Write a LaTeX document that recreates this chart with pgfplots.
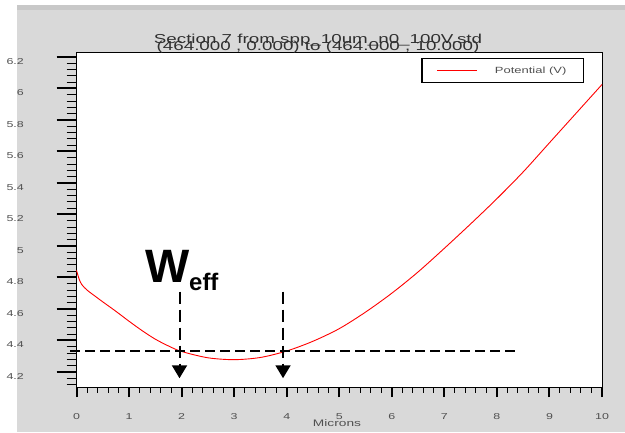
\documentclass[border=0pt]{standalone}
\usepackage{pgfplots}
\pgfplotsset{compat=1.18}
\usepackage{pgfplotstable}
\usepackage{fontspec}
\setmainfont{Liberation Sans}
\newfontfamily\widefont[FakeStretch=1.45]{Liberation Sans}
\usetikzlibrary{arrows.meta}
\definecolor{panel}{HTML}{D9D9D9}
\definecolor{panelband}{HTML}{C8C8C8}
\definecolor{labelgray}{HTML}{505050}
\definecolor{titlegray}{HTML}{303030}

% potential along section 7 (microns, volts)
\pgfplotstableread{
x v
0.00 4.845
0.05 4.790
0.10 4.755
0.20 4.720
0.35 4.682
0.50 4.645
0.75 4.585
1.00 4.522
1.25 4.462
1.50 4.408
1.75 4.365
2.00 4.330
2.50 4.290
3.00 4.278
3.50 4.292
4.00 4.333
4.50 4.395
5.00 4.475
5.50 4.580
6.00 4.700
6.50 4.835
7.00 4.985
7.50 5.140
8.00 5.300
8.50 5.470
9.00 5.655
9.50 5.840
10.00 6.025
}\potential

\pgfplotsset{
  frame/.style={
    at={(76.5bp,44.3bp)}, anchor=south west,
    width=525.5bp, height=334.7bp, scale only axis,
    xmin=0, xmax=10, ymin=4.1, ymax=6.225,
    axis line style={black, line width=1bp},
    tick align=outside, tick pos=left,
    major tick style={black, line width=2bp},
    minor tick style={black, line width=1bp},
    /pgf/number format/assume math mode=true,
  },
}

\begin{document}
\begin{tikzpicture}[x=1bp,y=1bp]
\useasboundingbox (0,0) rectangle (625,432);
\fill[white] (0,0) rectangle (625,432);
\fill[panel] (17.3,0) rectangle (625,427);
\fill[panelband] (17.3,422) rectangle (625,427);

% y axis ticks (long) and white plotting area
\begin{axis}[frame,
  axis background/.style={fill=white},
  xtick=\empty,
  ytick={4.0,4.2,4.4,4.6,4.8,5.0,5.2,5.4,5.6,5.8,6.0,6.2},
  minor y tick num=4,
  major tick length=20bp, minor tick length=10bp,
  yticklabel style={font=\widefont\fontsize{8.6}{8.6}\selectfont, text=labelgray,
    anchor=east, inner sep=0pt, xshift=-32.5bp, yshift=-4.5bp},
]
\end{axis}

% curve, x axis ticks and annotation
\begin{axis}[frame,
  ytick=\empty,
  xtick={0,1,2,3,4,5,6,7,8,9,10},
  minor x tick num=4,
  major tick length=9.5bp, minor tick length=5bp,
  xticklabel style={font=\widefont\fontsize{8.6}{8.6}\selectfont, text=labelgray,
    anchor=base, inner sep=0pt, yshift=-22bp},
  clip=false,
  legend image code/.code={\draw[red, line width=0.8bp] (0bp,0bp) -- (40bp,0bp);},
  legend style={at={(1,1)}, anchor=north east, xshift=-18bp, yshift=-5bp,
    draw=black, line width=1.2bp, fill=white,
    inner xsep=15bp, inner ysep=6bp, column sep=15bp,
    font=\widefont\fontsize{9}{9}\selectfont, text=labelgray,
    cells={anchor=west}},
]
\addplot[red, line width=0.9bp, smooth] table {\potential};
\addlegendentry{Potential (V)}
\addplot[black, line width=2bp, dash pattern=on 10bp off 5bp, forget plot]
  coordinates {(-0.12,4.333) (8.38,4.333)};
\addplot[black, line width=2bp, dash pattern=on 12bp off 6bp, forget plot,
  -{Triangle[width=15bp,length=13bp]}]
  coordinates {(1.96,4.71) (1.96,4.16)};
\addplot[black, line width=2bp, dash pattern=on 12bp off 6bp, forget plot,
  -{Triangle[width=15bp,length=13bp]}]
  coordinates {(3.93,4.71) (3.93,4.16)};
\node[anchor=base west, inner sep=0pt] at (axis cs:1.30,4.77)
  {\fontsize{47}{47}\selectfont\bfseries W\raisebox{-8bp}{\fontsize{24}{24}\selectfont eff}};
\end{axis}

\node[anchor=base, inner sep=0pt, text=titlegray, font=\widefont\fontsize{13}{13}\selectfont]
  at (318,388) {Section 7 from spp\_10um\_n0\_100V.std};
\node[anchor=base, inner sep=0pt, text=titlegray, font=\widefont\fontsize{13}{13}\selectfont]
  at (318,381.5) {(464.000 , 0.000) to (464.000 , 10.000)};
\node[anchor=base, inner sep=0pt, text=labelgray, font=\widefont\fontsize{9.5}{9.5}\selectfont]
  at (337,6) {Microns};
\end{tikzpicture}
\end{document}
